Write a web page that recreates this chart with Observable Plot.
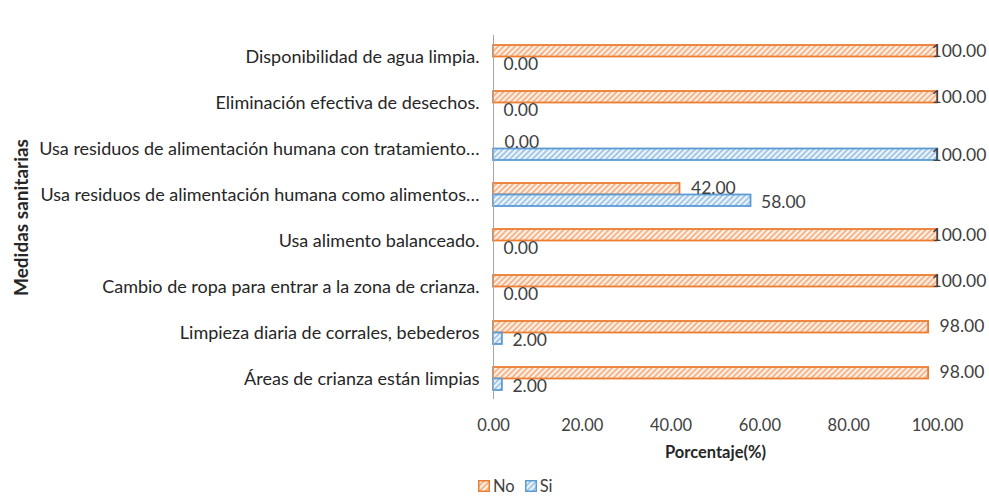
<!DOCTYPE html>
<html>
<head>
<meta charset="utf-8">
<script src="https://cdn.jsdelivr.net/npm/d3@7"></script>
<script src="https://cdn.jsdelivr.net/npm/@observablehq/plot@0.6"></script>
<style>
  body { margin: 0; background: #fff; font-family: Lato, sans-serif; }
  #legend { display: flex; align-items: center; gap: 10px; padding-left: 478px; font-size: 16.5px; color: #404040; height: 23px; }
  #legend span.item { display: inline-flex; align-items: center; gap: 3px; }
</style>
</head>
<body>
<div id="chart"></div>
<div id="legend"></div>
<script>
const categories = [
  "Disponibilidad de agua limpia.",
  "Eliminación efectiva de desechos.",
  "Usa residuos de alimentación humana con tratamiento…",
  "Usa residuos de alimentación humana como alimentos…",
  "Usa alimento balanceado.",
  "Cambio de ropa para entrar a la zona de crianza.",
  "Limpieza diaria de corrales, bebederos",
  "Áreas de crianza están limpias"
];
const noValues = [100, 100, 0, 42, 100, 100, 98, 98];
const siValues = [0, 0, 100, 58, 0, 0, 2, 2];
const xTicks = [0, 20, 40, 60, 80, 100];
const seriesNames = ["No", "Si"];

const rows = categories.map((c, i) => ({category: c, no: noValues[i], si: siValues[i]}));
const fmt = d3.format(".2f");

const ORANGE = "#ED7D31", ORANGE_L = "#F4B183";
const BLUE = "#5B9BD5", BLUE_L = "#9DC3E6";

function patternDefs(prefix) {
  return `<defs>
    <pattern id="${prefix}No" patternUnits="userSpaceOnUse" width="4" height="4" patternTransform="rotate(45)">
      <rect width="4" height="4" fill="#fdf1e9"/>
      <line x1="1" y1="0" x2="1" y2="4" stroke="${ORANGE_L}" stroke-width="1.8"/>
    </pattern>
    <pattern id="${prefix}Si" patternUnits="userSpaceOnUse" width="4" height="4" patternTransform="rotate(45)">
      <rect width="4" height="4" fill="#eef5fb"/>
      <line x1="1" y1="0" x2="1" y2="4" stroke="${BLUE_L}" stroke-width="1.8"/>
    </pattern>
  </defs>`;
}

const chart = Plot.plot({
  width: 989,
  height: 474,
  marginLeft: 493,
  marginRight: 52,
  marginTop: 35,
  marginBottom: 75,
  style: {fontFamily: "Lato, sans-serif", fontSize: "17.5px", color: "#404040", background: "#fff"},
  x: {domain: [0, 100]},
  y: {domain: categories, paddingInner: 0.5, paddingOuter: 0.2},
  marks: [
    () => {
      const g = document.createElementNS("http://www.w3.org/2000/svg", "g");
      g.innerHTML = patternDefs("hatch");
      return g;
    },
    Plot.barX(rows, {y: "category", x: "no", fill: "url(#hatchNo)", stroke: ORANGE, strokeWidth: 1.8, insetBottom: 11.5}),
    Plot.barX(rows, {y: "category", x: "si", fill: "url(#hatchSi)", stroke: BLUE, strokeWidth: 1.8, insetTop: 11.5}),
    Plot.ruleX([0], {stroke: "#a6a6a6", strokeWidth: 1}),
    Plot.text(rows.filter(d => d.no < 100), {y: "category", x: "no", text: d => fmt(d.no), textAnchor: "start", dx: 11, dy: -7, fill: "#404040"}),
    Plot.text(rows.filter(d => d.no === 100), {y: "category", x: "no", text: d => fmt(d.no), textAnchor: "start", dx: -6, dy: -6, fill: "#404040"}),
    Plot.text(rows.filter(d => d.si < 100), {y: "category", x: "si", text: d => fmt(d.si), textAnchor: "start", dx: 10, dy: 7, fill: "#404040"}),
    Plot.text(rows.filter(d => d.si === 100), {y: "category", x: "si", text: d => fmt(d.si), textAnchor: "start", dx: -6, dy: 6, fill: "#404040"}),
    Plot.axisX({ticks: xTicks, tickFormat: fmt, tickSize: 0, tickPadding: 20, label: null, fontSize: 16.5}),
    Plot.axisY({tickSize: 0, tickPadding: 14, label: null, fill: "#262626", fontSize: 18}),
    Plot.text(["Porcentaje(%)"], {frameAnchor: "bottom", dy: 58, fontWeight: "bold", fill: "#262626", fontSize: 16.5}),
    Plot.text(["Medidas sanitarias"], {frameAnchor: "left", textAnchor: "middle", dx: -472, rotate: -90, fontWeight: "bold", fill: "#262626", fontSize: 19})
  ]
});
document.getElementById("chart").appendChild(chart);

const legend = document.getElementById("legend");
const colors = {No: ORANGE, Si: BLUE};
legend.innerHTML = `<svg width="0" height="0" style="position:absolute">${patternDefs("leg")}</svg>` +
  seriesNames.map(s => `<span class="item"><svg width="12" height="12"><rect x="0.75" y="0.75" width="10.5" height="10.5" fill="url(#leg${s})" stroke="${colors[s]}" stroke-width="1.5"/></svg>${s}</span>`).join("");
</script>
</body>
</html>
